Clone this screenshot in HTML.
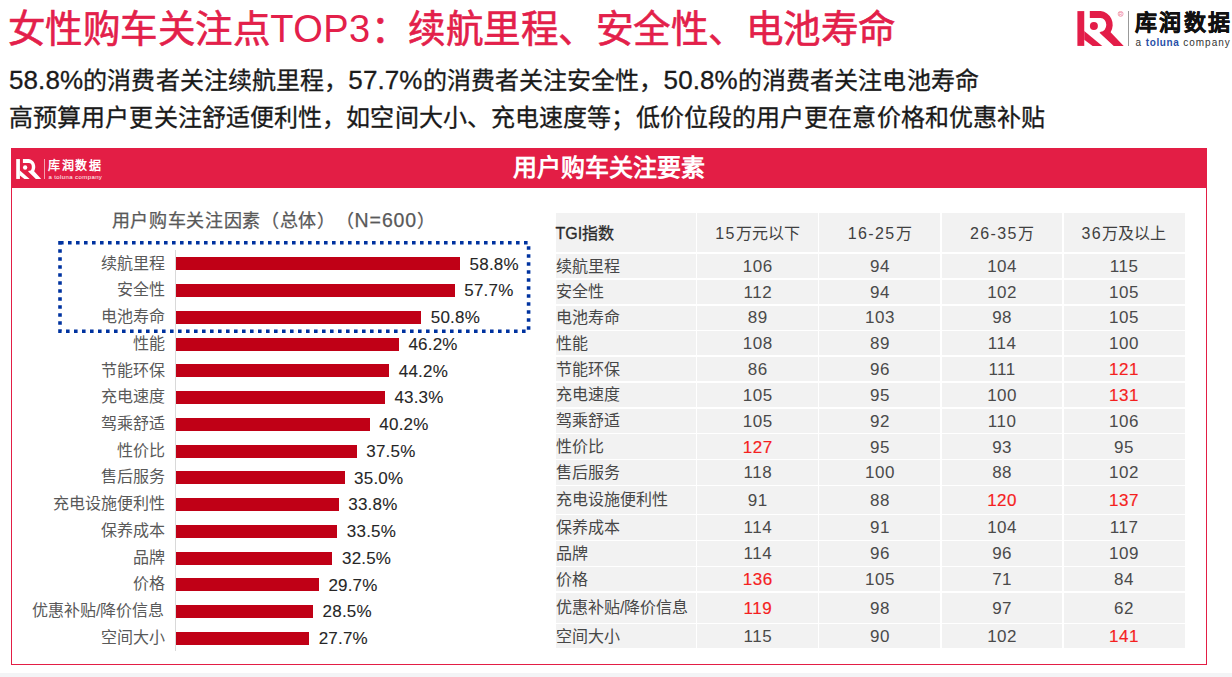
<!DOCTYPE html>
<html lang="zh-CN">
<head>
<meta charset="utf-8">
<style>
html,body{margin:0;padding:0;background:#fff;}
body{width:1232px;height:677px;position:relative;overflow:hidden;font-family:"Liberation Sans",sans-serif;text-spacing-trim:space-all;}
div{position:absolute;box-sizing:border-box;}
.title{left:7.7px;top:8.8px;font-size:37.5px;line-height:40px;color:#E3204A;white-space:nowrap;-webkit-text-stroke:0.6px #E3204A;letter-spacing:0.5px;}
.lt{font-size:38px;-webkit-text-stroke:0;}
.ln{font-size:26px;}
.sub{left:9px;font-size:24px;line-height:26px;color:#1a1a1a;white-space:nowrap;letter-spacing:0.1px;-webkit-text-stroke:0.3px #1a1a1a;}
.box{left:11px;top:148.3px;width:1196px;height:516.4px;border:1.7px solid #E31E45;}
.band{left:11px;top:148.3px;width:1196px;height:40.2px;background:#E31E45;}
.bandt{left:11px;top:147.5px;width:1196px;height:40.2px;line-height:40px;text-align:center;color:#fff;font-size:24px;font-weight:bold;}
.ctitle{left:111.5px;top:207.5px;font-size:18px;letter-spacing:0.7px;line-height:24px;color:#595959;white-space:nowrap;-webkit-text-stroke:0.25px #595959;}
.axis{width:1px;background:#d9d9d9;}
.bar{left:176px;background:#C00016;}
.clab{left:0;width:164.5px;text-align:right;font-size:16px;line-height:20px;color:#595959;white-space:nowrap;}
.vlab{font-size:17px;line-height:20px;color:#262626;white-space:nowrap;-webkit-text-stroke:0.1px #262626;letter-spacing:0.2px;}
.tbg{background:#F2F2F2;}
.vs,.hs{background:#fff;}
.th0,.th,.td0,.td{display:flex;align-items:center;white-space:nowrap;}
.th,.td{justify-content:center;}
.th0{font-size:16px;color:#2a2a2a;padding-left:0px;padding-bottom:1.5px;-webkit-text-stroke:0.3px #2a2a2a;}
.th{font-size:16px;color:#404040;padding-bottom:1.5px;}
.th b{font-weight:normal;letter-spacing:1.4px;}
.td0{font-size:16px;color:#474747;padding-left:0.5px;padding-bottom:3px;}
.td{font-size:17px;color:#4a4a4a;letter-spacing:0.5px;padding-left:0.5px;padding-top:1.8px;}
.td.red{color:#F51F1F;-webkit-text-stroke:0.2px #F51F1F;}
.bottom{left:0;top:673px;width:1232px;height:4px;background:#F3F4F6;}
</style>
</head>
<body>
<div class="title">女性购车关注点<span class="lt">TOP3</span>：续航里程、安全性、电池寿命</div>
<div class="sub" style="top:67px"><span class="ln">58.8%</span>的消费者关注续航里程，<span class="ln">57.7%</span>的消费者关注安全性，<span class="ln">50.8%</span>的消费者关注电池寿命</div>
<div class="sub" style="top:105px">高预算用户更关注舒适便利性，如空间大小、充电速度等；低价位段的用户更在意价格和优惠补贴</div>

<!-- top-right logo -->
<svg style="position:absolute;left:1077px;top:11px" width="50" height="36" viewBox="0 0 50 36">
  <g fill="#E31D48">
    <rect x="0.4" y="0.1" width="6.85" height="34.8"/>
    <path d="M7.25,20 L25.3,34.9 L15.6,34.9 L7.25,28.7 Z"/>
    <path d="M12.8,0.1 H23.7 A13.05,13.7 0 0 1 33.6,21.2 L46.7,34.9 H36.75 L22.5,21.8 L23.7,20.7 A5.6,6.9 0 0 0 23.7,6.9 H12.8 Z"/>
    <circle cx="16.9" cy="15" r="4"/>
  </g>
  <circle cx="43.6" cy="2.9" r="2.5" fill="none" stroke="#EE8098" stroke-width="0.7"/><text x="43.6" y="4.6" font-size="4.5" text-anchor="middle" fill="#EE8098" font-family="Liberation Sans">R</text>
</svg>
<div style="left:1128px;top:11px;width:1px;height:35px;background:#999"></div>
<div style="left:1135px;top:10px;font-size:22px;line-height:26px;font-weight:bold;color:#111;letter-spacing:2.4px;white-space:nowrap;-webkit-text-stroke:0.4px #111">库润数据</div>
<div style="left:1135.5px;top:37px;font-size:10px;line-height:12px;color:#333;letter-spacing:1px;white-space:nowrap">a <span style="color:#2850A8;font-weight:bold;letter-spacing:0.6px">toluna</span> company</div>

<div class="box"></div>
<div class="band"></div>
<div class="bandt">用户购车关注要素</div>
<!-- white logo in band -->
<svg style="position:absolute;left:15.7px;top:159px" width="27" height="20.6" viewBox="0 0 50 36" preserveAspectRatio="none">
  <g fill="#fff">
    <rect x="0.4" y="0.1" width="6.85" height="34.8"/>
    <path d="M7.25,20 L25.3,34.9 L15.6,34.9 L7.25,28.7 Z"/>
    <path d="M12.8,0.1 H23.7 A13.05,13.7 0 0 1 33.6,21.2 L46.7,34.9 H36.75 L22.5,21.8 L23.7,20.7 A5.6,6.9 0 0 0 23.7,6.9 H12.8 Z"/>
    <circle cx="16.9" cy="15" r="4"/>
  </g>
</svg>
<div style="left:44px;top:159px;width:1px;height:20px;background:#F4A0B0"></div>
<div style="left:48px;top:158.5px;font-size:12px;line-height:15px;font-weight:bold;color:#fff;letter-spacing:1.5px;white-space:nowrap">库润数据</div>
<div style="left:48.5px;top:172.5px;font-size:6px;line-height:8px;color:#fff;letter-spacing:0.4px;white-space:nowrap">a toluna company</div>

<div class="ctitle">用户购车关注因素（总体）（<span style="font-size:19.5px;letter-spacing:0.9px">N=600</span>）</div>
<svg style="position:absolute;left:0;top:0" width="1232" height="677">
  <rect x="60" y="242.8" width="468.6" height="88.4" fill="none" stroke="#0033A0" stroke-width="3.6" stroke-dasharray="3.6 4.4"/>
</svg>

<div class="axis" style="left:175px;top:250.3px;height:400.8px"></div>
<div class="bar" style="top:257.30px;width:284.00px;height:13.1px"></div>
<div class="clab" style="top:253.66px">续航里程</div>
<div class="vlab" style="left:469.60px;top:254.55px">58.8%</div>
<div class="bar" style="top:284.05px;width:278.66px;height:13.1px"></div>
<div class="clab" style="top:280.38px">安全性</div>
<div class="vlab" style="left:464.26px;top:281.30px">57.7%</div>
<div class="bar" style="top:310.80px;width:245.18px;height:13.1px"></div>
<div class="clab" style="top:307.10px">电池寿命</div>
<div class="vlab" style="left:430.78px;top:308.05px">50.8%</div>
<div class="bar" style="top:337.55px;width:222.86px;height:13.1px"></div>
<div class="clab" style="top:333.82px">性能</div>
<div class="vlab" style="left:408.46px;top:334.80px">46.2%</div>
<div class="bar" style="top:364.30px;width:213.16px;height:13.1px"></div>
<div class="clab" style="top:360.54px">节能环保</div>
<div class="vlab" style="left:398.76px;top:361.55px">44.2%</div>
<div class="bar" style="top:391.05px;width:208.79px;height:13.1px"></div>
<div class="clab" style="top:387.26px">充电速度</div>
<div class="vlab" style="left:394.39px;top:388.30px">43.3%</div>
<div class="bar" style="top:417.80px;width:193.75px;height:13.1px"></div>
<div class="clab" style="top:413.98px">驾乘舒适</div>
<div class="vlab" style="left:379.35px;top:415.05px">40.2%</div>
<div class="bar" style="top:444.55px;width:180.65px;height:13.1px"></div>
<div class="clab" style="top:440.70px">性价比</div>
<div class="vlab" style="left:366.25px;top:441.80px">37.5%</div>
<div class="bar" style="top:471.30px;width:168.52px;height:13.1px"></div>
<div class="clab" style="top:467.42px">售后服务</div>
<div class="vlab" style="left:354.12px;top:468.55px">35.0%</div>
<div class="bar" style="top:498.05px;width:162.70px;height:13.1px"></div>
<div class="clab" style="top:494.14px">充电设施便利性</div>
<div class="vlab" style="left:348.30px;top:495.30px">33.8%</div>
<div class="bar" style="top:524.80px;width:161.24px;height:13.1px"></div>
<div class="clab" style="top:520.86px">保养成本</div>
<div class="vlab" style="left:346.84px;top:522.05px">33.5%</div>
<div class="bar" style="top:551.55px;width:156.39px;height:13.1px"></div>
<div class="clab" style="top:547.58px">品牌</div>
<div class="vlab" style="left:341.99px;top:548.80px">32.5%</div>
<div class="bar" style="top:578.30px;width:142.80px;height:13.1px"></div>
<div class="clab" style="top:574.30px">价格</div>
<div class="vlab" style="left:328.40px;top:575.55px">29.7%</div>
<div class="bar" style="top:605.05px;width:136.98px;height:13.1px"></div>
<div class="clab" style="top:601.02px">优惠补贴/降价信息</div>
<div class="vlab" style="left:322.58px;top:602.30px">28.5%</div>
<div class="bar" style="top:631.80px;width:133.10px;height:13.1px"></div>
<div class="clab" style="top:627.74px">空间大小</div>
<div class="vlab" style="left:318.70px;top:629.05px">27.7%</div>
<div class="tbg" style="left:555.5px;top:213px;width:629.2px;height:435.2px"></div>
<div class="vs" style="left:695.75px;top:213px;height:435.2px;width:1.5px"></div>
<div class="vs" style="left:817.85px;top:213px;height:435.2px;width:1.5px"></div>
<div class="vs" style="left:940.05px;top:213px;height:435.2px;width:1.5px"></div>
<div class="vs" style="left:1062.15px;top:213px;height:435.2px;width:1.5px"></div>
<div class="hs" style="left:555.5px;top:252.35px;width:629.2px;height:1.5px"></div>
<div class="hs" style="left:555.5px;top:278.25px;width:629.2px;height:1.5px"></div>
<div class="hs" style="left:555.5px;top:304.05px;width:629.2px;height:1.5px"></div>
<div class="hs" style="left:555.5px;top:329.65px;width:629.2px;height:1.5px"></div>
<div class="hs" style="left:555.5px;top:355.35px;width:629.2px;height:1.5px"></div>
<div class="hs" style="left:555.5px;top:381.25px;width:629.2px;height:1.5px"></div>
<div class="hs" style="left:555.5px;top:407.15px;width:629.2px;height:1.5px"></div>
<div class="hs" style="left:555.5px;top:432.95px;width:629.2px;height:1.5px"></div>
<div class="hs" style="left:555.5px;top:458.85px;width:629.2px;height:1.5px"></div>
<div class="hs" style="left:555.5px;top:484.65px;width:629.2px;height:1.5px"></div>
<div class="hs" style="left:555.5px;top:513.75px;width:629.2px;height:1.5px"></div>
<div class="hs" style="left:555.5px;top:539.75px;width:629.2px;height:1.5px"></div>
<div class="hs" style="left:555.5px;top:565.55px;width:629.2px;height:1.5px"></div>
<div class="hs" style="left:555.5px;top:591.35px;width:629.2px;height:1.5px"></div>
<div class="hs" style="left:555.5px;top:622.95px;width:629.2px;height:1.5px"></div>
<div class="th0" style="left:555.50px;top:213.00px;width:141.00px;height:39.35px;"><span>TGI指数</span></div>
<div class="th" style="left:696.50px;top:213.00px;width:122.10px;height:39.35px;"><span><b>15</b>万元以下</span></div>
<div class="th" style="left:818.60px;top:213.00px;width:122.20px;height:39.35px;"><span><b>16-25</b>万</span></div>
<div class="th" style="left:940.80px;top:213.00px;width:122.10px;height:39.35px;"><span><b>26-35</b>万</span></div>
<div class="th" style="left:1062.90px;top:213.00px;width:121.80px;height:39.35px;"><span><b>36</b>万及以上</span></div>
<div class="td0" style="left:555.50px;top:253.85px;width:141.00px;height:24.40px;"><span>续航里程</span></div>
<div class="td" style="left:696.50px;top:253.85px;width:122.10px;height:24.40px;"><span>106</span></div>
<div class="td" style="left:818.60px;top:253.85px;width:122.20px;height:24.40px;"><span>94</span></div>
<div class="td" style="left:940.80px;top:253.85px;width:122.10px;height:24.40px;"><span>104</span></div>
<div class="td" style="left:1062.90px;top:253.85px;width:121.80px;height:24.40px;"><span>115</span></div>
<div class="td0" style="left:555.50px;top:279.75px;width:141.00px;height:24.30px;"><span>安全性</span></div>
<div class="td" style="left:696.50px;top:279.75px;width:122.10px;height:24.30px;"><span>112</span></div>
<div class="td" style="left:818.60px;top:279.75px;width:122.20px;height:24.30px;"><span>94</span></div>
<div class="td" style="left:940.80px;top:279.75px;width:122.10px;height:24.30px;"><span>102</span></div>
<div class="td" style="left:1062.90px;top:279.75px;width:121.80px;height:24.30px;"><span>105</span></div>
<div class="td0" style="left:555.50px;top:305.55px;width:141.00px;height:24.10px;"><span>电池寿命</span></div>
<div class="td" style="left:696.50px;top:305.55px;width:122.10px;height:24.10px;"><span>89</span></div>
<div class="td" style="left:818.60px;top:305.55px;width:122.20px;height:24.10px;"><span>103</span></div>
<div class="td" style="left:940.80px;top:305.55px;width:122.10px;height:24.10px;"><span>98</span></div>
<div class="td" style="left:1062.90px;top:305.55px;width:121.80px;height:24.10px;"><span>105</span></div>
<div class="td0" style="left:555.50px;top:331.15px;width:141.00px;height:24.20px;"><span>性能</span></div>
<div class="td" style="left:696.50px;top:331.15px;width:122.10px;height:24.20px;"><span>108</span></div>
<div class="td" style="left:818.60px;top:331.15px;width:122.20px;height:24.20px;"><span>89</span></div>
<div class="td" style="left:940.80px;top:331.15px;width:122.10px;height:24.20px;"><span>114</span></div>
<div class="td" style="left:1062.90px;top:331.15px;width:121.80px;height:24.20px;"><span>100</span></div>
<div class="td0" style="left:555.50px;top:356.85px;width:141.00px;height:24.40px;"><span>节能环保</span></div>
<div class="td" style="left:696.50px;top:356.85px;width:122.10px;height:24.40px;"><span>86</span></div>
<div class="td" style="left:818.60px;top:356.85px;width:122.20px;height:24.40px;"><span>96</span></div>
<div class="td" style="left:940.80px;top:356.85px;width:122.10px;height:24.40px;"><span>111</span></div>
<div class="td red" style="left:1062.90px;top:356.85px;width:121.80px;height:24.40px;"><span>121</span></div>
<div class="td0" style="left:555.50px;top:382.75px;width:141.00px;height:24.40px;"><span>充电速度</span></div>
<div class="td" style="left:696.50px;top:382.75px;width:122.10px;height:24.40px;"><span>105</span></div>
<div class="td" style="left:818.60px;top:382.75px;width:122.20px;height:24.40px;"><span>95</span></div>
<div class="td" style="left:940.80px;top:382.75px;width:122.10px;height:24.40px;"><span>100</span></div>
<div class="td red" style="left:1062.90px;top:382.75px;width:121.80px;height:24.40px;"><span>131</span></div>
<div class="td0" style="left:555.50px;top:408.65px;width:141.00px;height:24.30px;"><span>驾乘舒适</span></div>
<div class="td" style="left:696.50px;top:408.65px;width:122.10px;height:24.30px;"><span>105</span></div>
<div class="td" style="left:818.60px;top:408.65px;width:122.20px;height:24.30px;"><span>92</span></div>
<div class="td" style="left:940.80px;top:408.65px;width:122.10px;height:24.30px;"><span>110</span></div>
<div class="td" style="left:1062.90px;top:408.65px;width:121.80px;height:24.30px;"><span>106</span></div>
<div class="td0" style="left:555.50px;top:434.45px;width:141.00px;height:24.40px;"><span>性价比</span></div>
<div class="td red" style="left:696.50px;top:434.45px;width:122.10px;height:24.40px;"><span>127</span></div>
<div class="td" style="left:818.60px;top:434.45px;width:122.20px;height:24.40px;"><span>95</span></div>
<div class="td" style="left:940.80px;top:434.45px;width:122.10px;height:24.40px;"><span>93</span></div>
<div class="td" style="left:1062.90px;top:434.45px;width:121.80px;height:24.40px;"><span>95</span></div>
<div class="td0" style="left:555.50px;top:460.35px;width:141.00px;height:24.30px;"><span>售后服务</span></div>
<div class="td" style="left:696.50px;top:460.35px;width:122.10px;height:24.30px;"><span>118</span></div>
<div class="td" style="left:818.60px;top:460.35px;width:122.20px;height:24.30px;"><span>100</span></div>
<div class="td" style="left:940.80px;top:460.35px;width:122.10px;height:24.30px;"><span>88</span></div>
<div class="td" style="left:1062.90px;top:460.35px;width:121.80px;height:24.30px;"><span>102</span></div>
<div class="td0" style="left:555.50px;top:486.15px;width:141.00px;height:27.60px;"><span>充电设施便利性</span></div>
<div class="td" style="left:696.50px;top:486.15px;width:122.10px;height:27.60px;"><span>91</span></div>
<div class="td" style="left:818.60px;top:486.15px;width:122.20px;height:27.60px;"><span>88</span></div>
<div class="td red" style="left:940.80px;top:486.15px;width:122.10px;height:27.60px;"><span>120</span></div>
<div class="td red" style="left:1062.90px;top:486.15px;width:121.80px;height:27.60px;"><span>137</span></div>
<div class="td0" style="left:555.50px;top:515.25px;width:141.00px;height:24.50px;"><span>保养成本</span></div>
<div class="td" style="left:696.50px;top:515.25px;width:122.10px;height:24.50px;"><span>114</span></div>
<div class="td" style="left:818.60px;top:515.25px;width:122.20px;height:24.50px;"><span>91</span></div>
<div class="td" style="left:940.80px;top:515.25px;width:122.10px;height:24.50px;"><span>104</span></div>
<div class="td" style="left:1062.90px;top:515.25px;width:121.80px;height:24.50px;"><span>117</span></div>
<div class="td0" style="left:555.50px;top:541.25px;width:141.00px;height:24.30px;"><span>品牌</span></div>
<div class="td" style="left:696.50px;top:541.25px;width:122.10px;height:24.30px;"><span>114</span></div>
<div class="td" style="left:818.60px;top:541.25px;width:122.20px;height:24.30px;"><span>96</span></div>
<div class="td" style="left:940.80px;top:541.25px;width:122.10px;height:24.30px;"><span>96</span></div>
<div class="td" style="left:1062.90px;top:541.25px;width:121.80px;height:24.30px;"><span>109</span></div>
<div class="td0" style="left:555.50px;top:567.05px;width:141.00px;height:24.30px;"><span>价格</span></div>
<div class="td red" style="left:696.50px;top:567.05px;width:122.10px;height:24.30px;"><span>136</span></div>
<div class="td" style="left:818.60px;top:567.05px;width:122.20px;height:24.30px;"><span>105</span></div>
<div class="td" style="left:940.80px;top:567.05px;width:122.10px;height:24.30px;"><span>71</span></div>
<div class="td" style="left:1062.90px;top:567.05px;width:121.80px;height:24.30px;"><span>84</span></div>
<div class="td0" style="left:555.50px;top:592.85px;width:141.00px;height:30.10px;"><span>优惠补贴/降价信息</span></div>
<div class="td red" style="left:696.50px;top:592.85px;width:122.10px;height:30.10px;"><span>119</span></div>
<div class="td" style="left:818.60px;top:592.85px;width:122.20px;height:30.10px;"><span>98</span></div>
<div class="td" style="left:940.80px;top:592.85px;width:122.10px;height:30.10px;"><span>97</span></div>
<div class="td" style="left:1062.90px;top:592.85px;width:121.80px;height:30.10px;"><span>62</span></div>
<div class="td0" style="left:555.50px;top:624.45px;width:141.00px;height:23.75px;"><span>空间大小</span></div>
<div class="td" style="left:696.50px;top:624.45px;width:122.10px;height:23.75px;"><span>115</span></div>
<div class="td" style="left:818.60px;top:624.45px;width:122.20px;height:23.75px;"><span>90</span></div>
<div class="td" style="left:940.80px;top:624.45px;width:122.10px;height:23.75px;"><span>102</span></div>
<div class="td red" style="left:1062.90px;top:624.45px;width:121.80px;height:23.75px;"><span>141</span></div>

<div class="bottom"></div>
</body>
</html>
